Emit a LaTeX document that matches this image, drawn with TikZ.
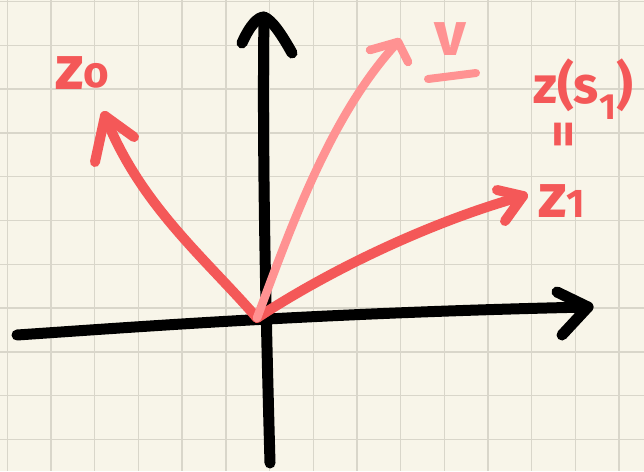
\documentclass[tikz,border=0pt]{standalone}
\usepackage{fontspec}
\setmainfont{Fira Sans}
\definecolor{paper}{RGB}{248,245,233}
\definecolor{gridc}{RGB}{217,214,202}
\definecolor{redc}{RGB}{244,88,88}
\definecolor{pinkc}{RGB}{255,146,146}
\tikzset{
  axisline/.style={line width=11pt, line cap=round, line join=round, black},
  vecline/.style={line width=10pt, line cap=round, line join=round, redc},
  vline/.style={line width=8.5pt, line cap=round, line join=round, pinkc},
  lbl/.style={text=redc, font=\bfseries\fontsize{62}{62}\selectfont, inner sep=0pt},
  lblsmall/.style={text=redc, font=\bfseries\fontsize{54}{54}\selectfont, inner sep=0pt},
}
\begin{document}
\begin{tikzpicture}[x=1pt,y=-1pt]
\fill[paper] (0,0) rectangle (644,471);
\useasboundingbox (0,0) rectangle (644,471);
% grid
\foreach \i in {0,...,14} {\draw[gridc, line width=1.4pt] ({7.3+43.7*\i},0) -- ({7.3+43.7*\i},471);}
\foreach \j in {0,...,10} {\draw[gridc, line width=1.4pt] (0,{1.5+43.8*\j}) -- (644,{1.5+43.8*\j});}
% coordinates
\coordinate (O) at (257,318);
\coordinate (xl) at (17,335);
\coordinate (xr) at (588,307);
\coordinate (yb) at (270,463);
\coordinate (yt) at (264,17);
\coordinate (z0) at (105,116);
\coordinate (vt) at (398,42);
\coordinate (z1) at (523,196);
% axes
\draw[axisline] (xl) .. controls (150,326) and (320,313) .. (xr);
\draw[axisline] (557,292) -- (xr) -- (562,335);
\draw[axisline] (yb) .. controls (266,320) and (262,150) .. (yt);
\draw[axisline] (242,43) .. controls (250,25) and (258,17) .. (yt) .. controls (272,20) and (282,35) .. (292,53);
% z0
\draw[vecline] (O) .. controls (205,258) and (140,205) .. (z0);
\draw[vecline] (95,162) -- (z0) -- (134,137);
% z1
\draw[vecline] (O) .. controls (330,270) and (430,222) .. (z1);
\draw[vecline] (497,190) -- (z1) -- (505,221);
% v
\draw[vline] (O) .. controls (290,230) and (330,115) .. (vt);
\draw[vline] (370,50) -- (vt) -- (408,62);
% labels
\node[lbl, anchor=south west] (lz0) at (55,90) {z\raisebox{2pt}{\fontsize{44}{44}\selectfont o}};
\node[text=pinkc, font=\bfseries\fontsize{62}{62}\selectfont, inner sep=0pt, anchor=south] (lv) at (450,56) {v};
\draw[pinkc, line width=8pt, line cap=round] (428,79) -- (476,73);
\node[lbl, anchor=south west, font=\bfseries\fontsize{52}{52}\selectfont] (lzs) at (533,120) {z(s\textsubscript{1})};
\node[lblsmall, rotate=90] (leq) at (568,134) {=};
\node[lbl, anchor=south west] (lz1) at (538,218) {z\fontsize{40}{40}\selectfont 1};
\end{tikzpicture}
\end{document}
